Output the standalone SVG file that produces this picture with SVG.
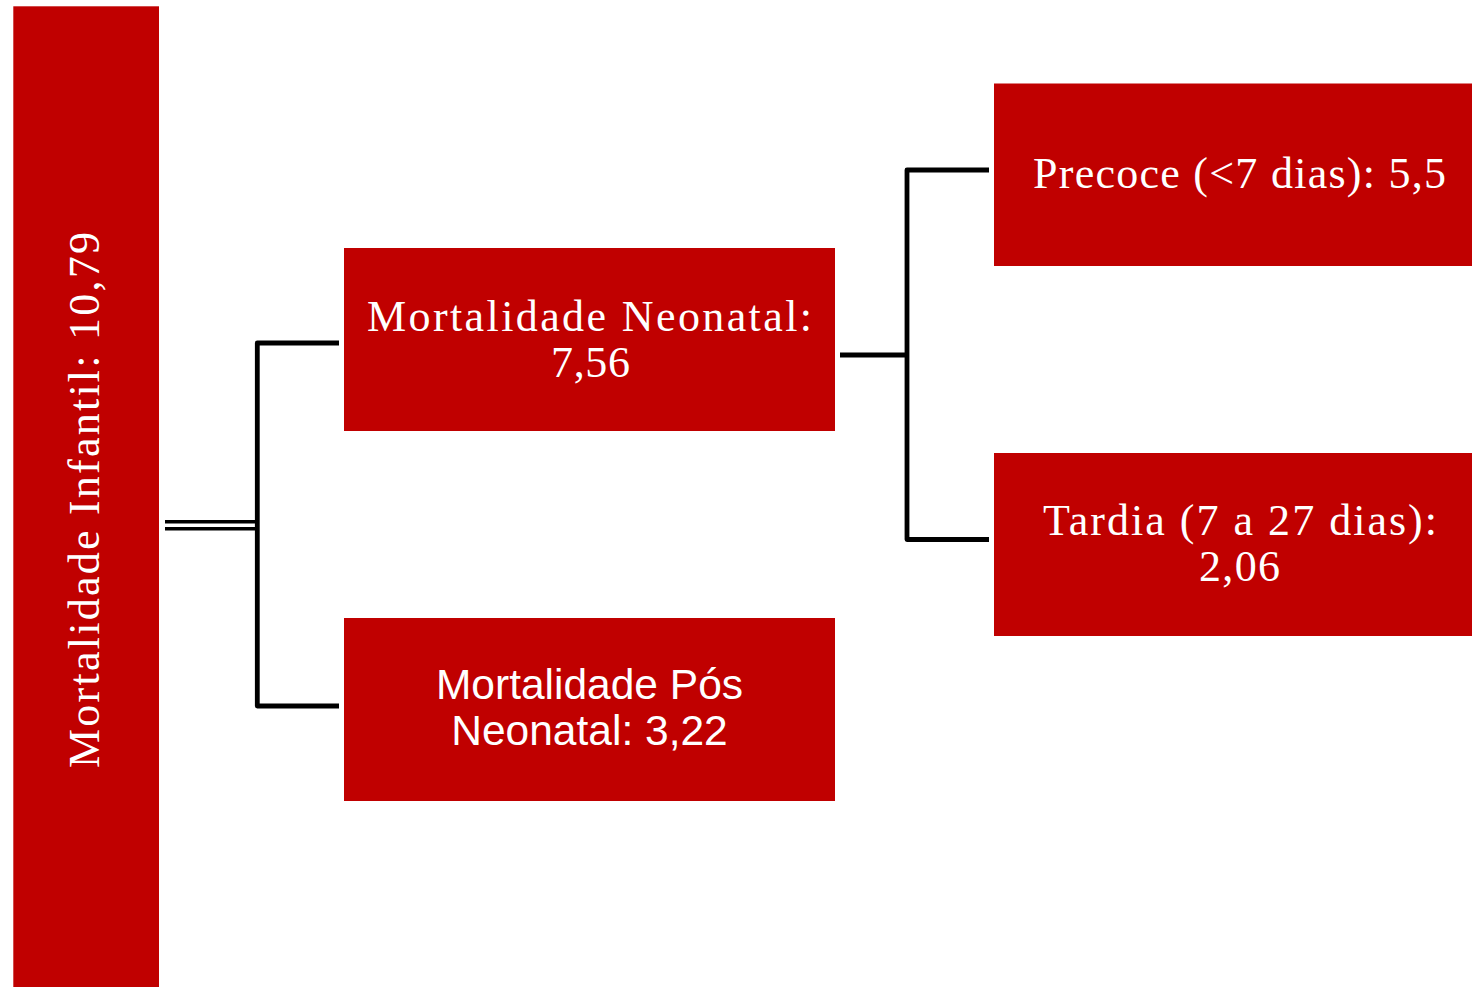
<svg xmlns="http://www.w3.org/2000/svg" width="1472" height="987" viewBox="0 0 1472 987">
  <style>
    .box { fill: #C00000; }
    .serif { font-family: "Liberation Serif", "Times New Roman", serif; font-size: 44px; fill: #FFFFFF; text-anchor: middle; }
    .sans { font-family: "Liberation Sans", Arial, sans-serif; font-size: 42.5px; fill: #FFFFFF; text-anchor: middle; }
    .link { fill: none; stroke: #000000; stroke-width: 4.8; stroke-linejoin: round; }
    .dbl { fill: none; stroke: #000000; stroke-width: 3.6; }
  </style>

  <!-- root: infant mortality, vertical bar -->
  <g id="infantil">
    <rect class="box" x="13.3" y="6.3" width="145.7" height="981"/>
    <text class="serif" transform="translate(99,500) rotate(-90)" textLength="536" lengthAdjust="spacing">Mortalidade Infantil: 10,79</text>
  </g>

  <g id="neonatal">
    <rect class="box" x="344" y="248" width="491" height="183"/>
    <text class="serif" x="589.5" y="331" textLength="445" lengthAdjust="spacing">Mortalidade Neonatal:</text>
    <text class="serif" x="590.5" y="377" textLength="79" lengthAdjust="spacing">7,56</text>
  </g>

  <g id="pos-neonatal">
    <rect class="box" x="344" y="618" width="491" height="183"/>
    <text class="sans" x="589.5" y="699">Mortalidade Pós</text>
    <text class="sans" x="589.5" y="745">Neonatal: 3,22</text>
  </g>

  <g id="precoce">
    <rect class="box" x="994" y="83.5" width="478" height="182.5"/>
    <text class="serif" x="1239.5" y="188" textLength="413" lengthAdjust="spacing">Precoce (&lt;7 dias): 5,5</text>
  </g>

  <g id="tardia">
    <rect class="box" x="994" y="453" width="478" height="183"/>
    <text class="serif" x="1240" y="535" textLength="394" lengthAdjust="spacing">Tardia (7 a 27 dias):</text>
    <text class="serif" x="1239.5" y="581" textLength="81" lengthAdjust="spacing">2,06</text>
  </g>

  <g id="connectors">
    <!-- double stem from the root -->
    <line class="dbl" x1="165" y1="521.8" x2="258" y2="521.8"/>
    <line class="dbl" x1="165" y1="528.8" x2="258" y2="528.8"/>
    <path class="link" d="M339,343 H257.3 V706 H339"/>
    <!-- neonatal split -->
    <line class="link" x1="840" y1="355" x2="907" y2="355"/>
    <path class="link" d="M989,170 H907 V539.5 H989"/>
  </g>
</svg>
